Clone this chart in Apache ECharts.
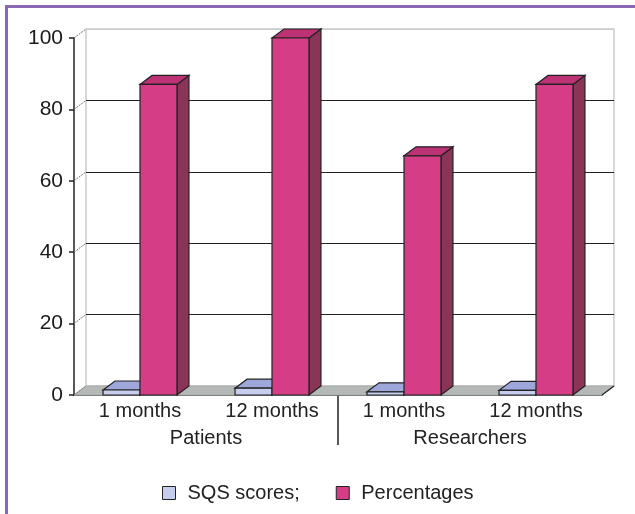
<!DOCTYPE html>
<html>
<head>
<meta charset="utf-8">
<script src="https://cdn.jsdelivr.net/npm/echarts@6/dist/echarts.min.js"></script>
<style>
    body { margin: 0; background: #fff; }
    #wrap { position: relative; width: 635px; height: 514px; }
    #chart { width: 635px; height: 514px; }
    #frame {
        position: absolute; left: 5px; top: 5px; right: 0; bottom: 0;
        border-top: 3px solid #8b68b4; border-left: 3px solid #8b68b4;
        pointer-events: none;
    }
</style>
</head>
<body>
<div id="wrap"><div id="chart"></div><div id="frame"></div></div>
<script>
// data
const categories = ['1 months', '12 months', '1 months', '12 months'];
const groups = ['Patients', 'Researchers'];
const sqsScores = [1.4, 1.9, 0.9, 1.3];
const percentages = [87, 100, 67, 87];
const yTicks = [0, 20, 40, 60, 80, 100];

// fake 3d depth
const DX = 12;
const DY = -9;
const EDGE = '#222';
const FONT = "'Liberation Sans', Arial, sans-serif";

const front = { left: 74, right: 33, top: 38, bottom: 119 };
const back = {
    left: front.left + DX,
    right: front.right - DX,
    top: front.top + DY,
    bottom: front.bottom - DY
};

const sqsColors = { front: '#c7cdec', top: '#9ea7da', side: '#7d88c4' };
const pctColors = { front: '#d53e86', top: '#bd3275', side: '#8a3457' };

const barRenderer = (colors, isLeft) => (params, api) => {
    const idx = api.value(0);
    const val = api.value(1);
    const base = api.coord([idx, 0]);
    const top = api.coord([idx, val]);
    const w = api.size([1, 0])[0] * 0.28;
    const x0 = isLeft ? base[0] - w : base[0];
    const x1 = x0 + w;
    const yb = base[1];
    const yt = top[1];
    return {
        type: 'group',
        children: [
            {
                type: 'polygon',
                shape: { points: [[x1, yb], [x1 + DX, yb + DY], [x1 + DX, yt + DY], [x1, yt]] },
                style: { fill: colors.side, stroke: EDGE, lineWidth: 1.2 }
            },
            {
                type: 'polygon',
                shape: { points: [[x0, yt], [x0 + DX, yt + DY], [x1 + DX, yt + DY], [x1, yt]] },
                style: { fill: colors.top, stroke: EDGE, lineWidth: 1.2 }
            },
            {
                type: 'rect',
                shape: { x: x0, y: yt, width: w, height: yb - yt },
                style: { fill: colors.front, stroke: EDGE, lineWidth: 1.2 }
            }
        ]
    };
};

const chart = echarts.init(document.getElementById('chart'));
chart.setOption({
    animation: false,
    backgroundColor: '#fff',
    textStyle: { fontFamily: FONT },
    grid: [
        Object.assign({ containLabel: false, outerBoundsMode: 'none' }, front),
        Object.assign({
            show: true, borderColor: '#c9cccc', borderWidth: 1.5,
            containLabel: false, outerBoundsMode: 'none'
        }, back)
    ],
    legend: {
        data: ['SQS scores;', 'Percentages'],
        left: 157,
        top: 478,
        icon: 'rect',
        itemWidth: 13,
        itemHeight: 13,
        itemGap: 36,
        itemStyle: { borderColor: EDGE, borderWidth: 1 },
        textStyle: { fontSize: 20, color: '#222', padding: [0, 0, 0, 7] }
    },
    xAxis: [
        {
            type: 'category',
            gridIndex: 0,
            position: 'bottom',
            data: categories,
            axisLine: { lineStyle: { color: EDGE, width: 1.5 } },
            axisTick: { length: 5, lineStyle: { color: EDGE, width: 1.5 } },
            axisLabel: { fontSize: 20, color: '#222', margin: 6 }
        },
        {
            type: 'category',
            gridIndex: 0,
            position: 'bottom',
            data: groups,
            axisLine: { show: false },
            axisTick: { show: false },
            axisLabel: { fontSize: 20, color: '#222', margin: 33 }
        },
        {
            // divider between the two groups
            type: 'category',
            gridIndex: 0,
            position: 'bottom',
            boundaryGap: false,
            data: ['', '', ''],
            axisLine: { show: false },
            axisLabel: { show: false },
            axisTick: {
                length: 50,
                interval: (i) => i === 1,
                lineStyle: { color: EDGE, width: 1.5 }
            }
        },
        { type: 'category', gridIndex: 1, data: categories, show: false }
    ],
    yAxis: [
        {
            type: 'value',
            gridIndex: 0,
            min: 0,
            max: 100,
            interval: 20,
            axisLine: { show: true, lineStyle: { color: EDGE, width: 1.5 } },
            axisTick: { show: true, length: 5, lineStyle: { color: EDGE, width: 1.5 } },
            axisLabel: { fontSize: 21, color: '#1a1a1a', margin: 11 },
            splitLine: { show: false }
        },
        {
            type: 'value',
            gridIndex: 1,
            min: 0,
            max: 100,
            interval: 20,
            axisLine: { show: false },
            axisTick: { show: false },
            axisLabel: { show: false },
            splitLine: {
                show: true,
                lineStyle: { color: ['#222', '#222', '#222', '#222', '#222', '#c9cccc'], width: 1 }
            }
        }
    ],
    series: [
        {
            // floor
            type: 'custom',
            name: 'floor',
            xAxisIndex: 0,
            yAxisIndex: 0,
            silent: true,
            data: [[0, 0]],
            renderItem: (params, api) => {
                const cs = params.coordSys;
                const y0 = api.coord([0, 0])[1];
                const xl = cs.x;
                const xr = cs.x + cs.width;
                return {
                    type: 'group',
                    children: [
                        {
                            type: 'polygon',
                            shape: { points: [[xl, y0], [xr, y0], [xr + DX, y0 + DY], [xl + DX, y0 + DY]] },
                            style: { fill: '#b4b8b7', stroke: '#a8acab', lineWidth: 1 }
                        },
                        {
                            type: 'line',
                            shape: { x1: xr, y1: y0, x2: xr + DX, y2: y0 + DY },
                            style: { stroke: EDGE, lineWidth: 1.2 }
                        }
                    ]
                };
            }
        },
        {
            // little slanted links from front ticks to the back wall
            type: 'custom',
            name: 'links',
            xAxisIndex: 0,
            yAxisIndex: 0,
            silent: true,
            data: yTicks.map(v => [0, v]),
            renderItem: (params, api) => {
                const cs = params.coordSys;
                const y = api.coord([0, api.value(1)])[1];
                return {
                    type: 'line',
                    shape: { x1: cs.x, y1: y, x2: cs.x + DX, y2: y + DY },
                    style: { stroke: '#777', lineWidth: 1, lineDash: [2, 1] }
                };
            }
        },
        {
            type: 'custom',
            name: 'SQS scores;',
            xAxisIndex: 0,
            yAxisIndex: 0,
            itemStyle: { color: sqsColors.front, borderColor: EDGE, borderWidth: 1 },
            data: sqsScores.map((v, i) => [i, v]),
            renderItem: barRenderer(sqsColors, true)
        },
        {
            type: 'custom',
            name: 'Percentages',
            xAxisIndex: 0,
            yAxisIndex: 0,
            itemStyle: { color: pctColors.front, borderColor: EDGE, borderWidth: 1 },
            data: percentages.map((v, i) => [i, v]),
            renderItem: barRenderer(pctColors, false)
        }
    ]
});
</script>
</body>
</html>
